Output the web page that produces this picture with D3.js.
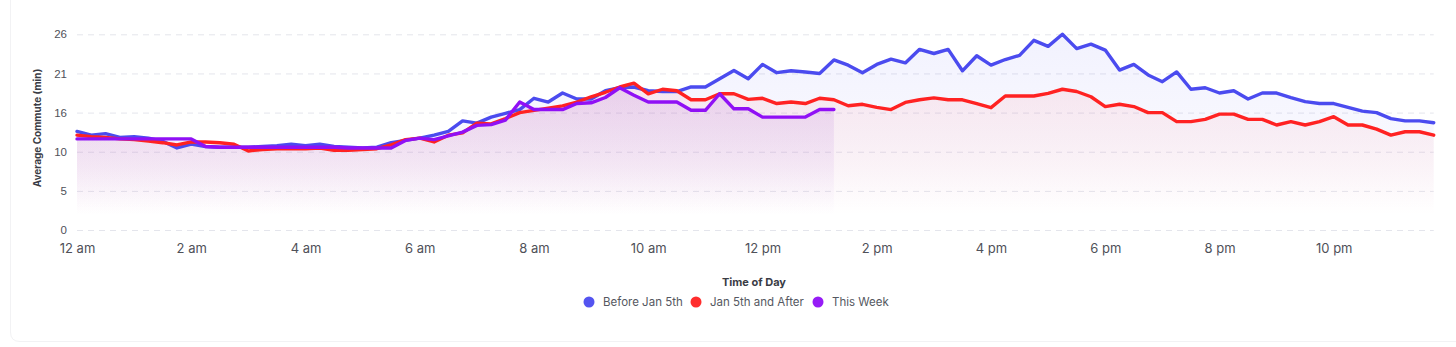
<!DOCTYPE html>
<html lang="en">
<head>
    <meta charset="UTF-8">
    <title>Average Commute by Time of Day</title>
    <script src="https://d3js.org/d3.v7.min.js"></script>
    <style>
        body { margin: 0; background: #fff; }
        svg { display: block; font-family: Inter, "Open Sans", sans-serif; }
        .grid line { stroke: #e4e5ec; stroke-dasharray: 6 5; }
        .tick text { fill: #4f5159; }
        .axis-title { font-weight: 700; fill: #3a3c45; }
        .legend text { fill: #555861; font-size: 11.5px; }
    </style>
</head>
<body>
    <svg width="1456" height="347"></svg>
    <script>
        // readings every 15 minutes, 12 am .. 11:45 pm
        const beforeJan5 = [
            13.1, 12.6, 12.8, 12.3, 12.4, 12.2, 11.8, 10.9, 11.4, 11.1, 11.0, 11.0,
            11.0, 11.1, 11.2, 11.4, 11.2, 11.4, 11.1, 11.0, 10.9, 11.0, 11.6, 11.9,
            12.2, 12.6, 13.1, 14.5, 14.2, 15.0, 15.5, 16.0, 17.5, 17.0, 18.2, 17.4,
            17.4, 18.5, 18.9, 19.0, 18.5, 18.4, 18.4, 19.0, 19.0, 20.1, 21.2, 20.1,
            22.0, 20.9, 21.15, 21.0, 20.8, 22.6, 21.9, 20.9, 22.0, 22.7, 22.2, 24.0,
            23.45, 24.0, 21.15, 23.15, 21.9, 22.65, 23.2, 25.2, 24.4, 26.0, 24.1, 24.7,
            23.9, 21.25, 22.0, 20.6, 19.7, 21.0, 18.7, 18.9, 18.2, 18.5, 17.4, 18.2,
            18.2, 17.6, 17.05, 16.8, 16.8, 16.3, 15.8, 15.6, 14.8, 14.5, 14.5, 14.25
        ];
        const jan5AndAfter = [
            12.6, 12.4, 12.3, 12.1, 12.0, 11.8, 11.6, 11.3, 11.7, 11.7, 11.6, 11.4,
            10.5, 10.7, 10.8, 10.8, 10.8, 10.9, 10.6, 10.6, 10.7, 10.8, 11.3, 12.0,
            12.2, 11.7, 12.6, 12.9, 14.2, 14.1, 14.8, 15.6, 15.9, 16.2, 16.5, 17.0,
            17.7, 18.3, 19.0, 19.5, 18.1, 18.7, 18.5, 17.3, 17.3, 18.1, 18.1, 17.35,
            17.5, 16.8, 17.0, 16.8, 17.5, 17.3, 16.5, 16.7, 16.3, 16.0, 16.95, 17.3,
            17.55, 17.3, 17.3, 16.8, 16.25, 17.8, 17.8, 17.8, 18.15, 18.7, 18.4, 17.7,
            16.4, 16.7, 16.4, 15.6, 15.6, 14.4, 14.4, 14.7, 15.4, 15.4, 14.7, 14.7,
            13.95, 14.4, 13.95, 14.4, 15.05, 13.95, 13.95, 13.4, 12.6, 13.05, 13.05, 12.6
        ];
        // current week only runs up to 1:15 pm
        const thisWeek = [
            12.1, 12.1, 12.1, 12.1, 12.1, 12.1, 12.1, 12.1, 12.1, 11.1, 11.0, 11.0,
            11.0, 11.0, 11.0, 11.0, 11.0, 11.0, 11.0, 10.9, 10.9, 10.9, 10.9, 11.9,
            12.2, 12.0, 12.5, 13.0, 13.9, 14.0, 14.6, 17.0, 16.0, 16.0, 16.0, 16.8,
            16.9, 17.6, 18.9, 17.9, 17.0, 17.0, 17.0, 15.9, 15.9, 18.1, 16.1, 16.1,
            15.0, 15.0, 15.0, 15.0, 16.0, 16.0
        ];

        const seriesNames = ["Before Jan 5th", "Jan 5th and After", "This Week"];
        const seriesColors = ["#4b4bef", "#ff2222", "#9010f5"];
        const fillColors = ["#5a5af0", "#ff4a5a", "#a050d0"];
        const fillOpacity = [0.08, 0.09, 0.15];
        const hourTicks = [0, 2, 4, 6, 8, 10, 12, 14, 16, 18, 20, 22];
        const hourLabels = ["12 am", "2 am", "4 am", "6 am", "8 am", "10 am",
                            "12 pm", "2 pm", "4 pm", "6 pm", "8 pm", "10 pm"];
        const yTickLabels = ["0", "5", "10", "16", "21", "26"];
        const yMax = 26;

        const series = [beforeJan5, jan5AndAfter, thisWeek];

        const svg = d3.select("svg");
        const x = d3.scaleLinear().domain([0, 24]).range([77, 1448]);
        const y = d3.scaleLinear().domain([0, yMax]).range([230, 34.3]);
        const yTicks = yTickLabels.map((_, i) => yMax * i / 5);

        // dashed horizontal grid
        svg.append("g")
            .attr("class", "grid")
            .selectAll("line")
            .data(yTicks)
            .join("line")
            .attr("x1", x(0))
            .attr("x2", x(23.75))
            .attr("y1", d => y(d) + 0.5)
            .attr("y2", d => y(d) + 0.5);

        // card edge
        svg.append("path")
            .attr("d", "M10.5,0 V332 Q10.5,341.5 20,341.5 H1456")
            .attr("fill", "none")
            .attr("stroke", "#f2f2f4");

        const defs = svg.append("defs");
        series.forEach((s, k) => {
            const g = defs.append("linearGradient")
                .attr("id", "fade" + k)
                .attr("x1", 0).attr("x2", 0).attr("y1", 0).attr("y2", 1);
            g.append("stop").attr("offset", 0).attr("stop-color", fillColors[k]).attr("stop-opacity", fillOpacity[k]);
            g.append("stop").attr("offset", 0.55).attr("stop-color", fillColors[k]).attr("stop-opacity", fillOpacity[k] * 0.5);
            g.append("stop").attr("offset", 0.9).attr("stop-color", fillColors[k]).attr("stop-opacity", 0);
        });

        const area = d3.area()
            .x((d, i) => x(i / 4))
            .y0(y(0))
            .y1(d => y(d));
        const line = d3.line()
            .x((d, i) => x(i / 4))
            .y(d => y(d));

        svg.append("g").selectAll("path")
            .data(series)
            .join("path")
            .attr("d", d => area(d))
            .attr("fill", (d, k) => `url(#fade${k})`);

        svg.append("g").selectAll("path")
            .data(series)
            .join("path")
            .attr("d", d => line(d))
            .attr("fill", "none")
            .attr("stroke", (d, k) => seriesColors[k])
            .attr("stroke-width", 3.4)
            .attr("stroke-linejoin", "round")
            .attr("stroke-linecap", "round");

        // axes
        const yAxis = svg.append("g")
            .attr("transform", "translate(67,0)")
            .call(d3.axisLeft(y).tickValues(yTicks).tickSize(0)
                .tickFormat((d, i) => yTickLabels[i]));
        yAxis.select(".domain").remove();
        yAxis.selectAll("text").attr("font-size", 11.5).attr("x", 0);

        const xAxis = svg.append("g")
            .attr("transform", "translate(0,241)")
            .call(d3.axisBottom(x).tickValues(hourTicks).tickSize(0)
                .tickFormat((d, i) => hourLabels[i]));
        xAxis.select(".domain").remove();
        xAxis.selectAll("text").attr("font-size", 13).attr("font-family", "Inter, sans-serif");

        svg.append("text")
            .attr("class", "axis-title")
            .attr("transform", "translate(41,128) rotate(-90)")
            .attr("text-anchor", "middle")
            .attr("font-size", 10)
            .text("Average Commute (min)");

        svg.append("text")
            .attr("class", "axis-title")
            .attr("x", 754)
            .attr("y", 286)
            .attr("text-anchor", "middle")
            .attr("font-size", 11)
            .text("Time of Day");

        // legend
        const legendX = [589, 696, 818];
        const legend = svg.append("g").attr("class", "legend");
        const item = legend.selectAll("g")
            .data(seriesNames)
            .join("g")
            .attr("transform", (d, i) => `translate(${legendX[i]},302)`);
        item.append("circle")
            .attr("r", 5.5)
            .attr("fill", (d, i) => seriesColors[i])
            .attr("opacity", 0.95);
        item.append("text")
            .attr("x", 14)
            .attr("dy", "0.35em")
            .text(d => d);
    </script>
</body>
</html>
